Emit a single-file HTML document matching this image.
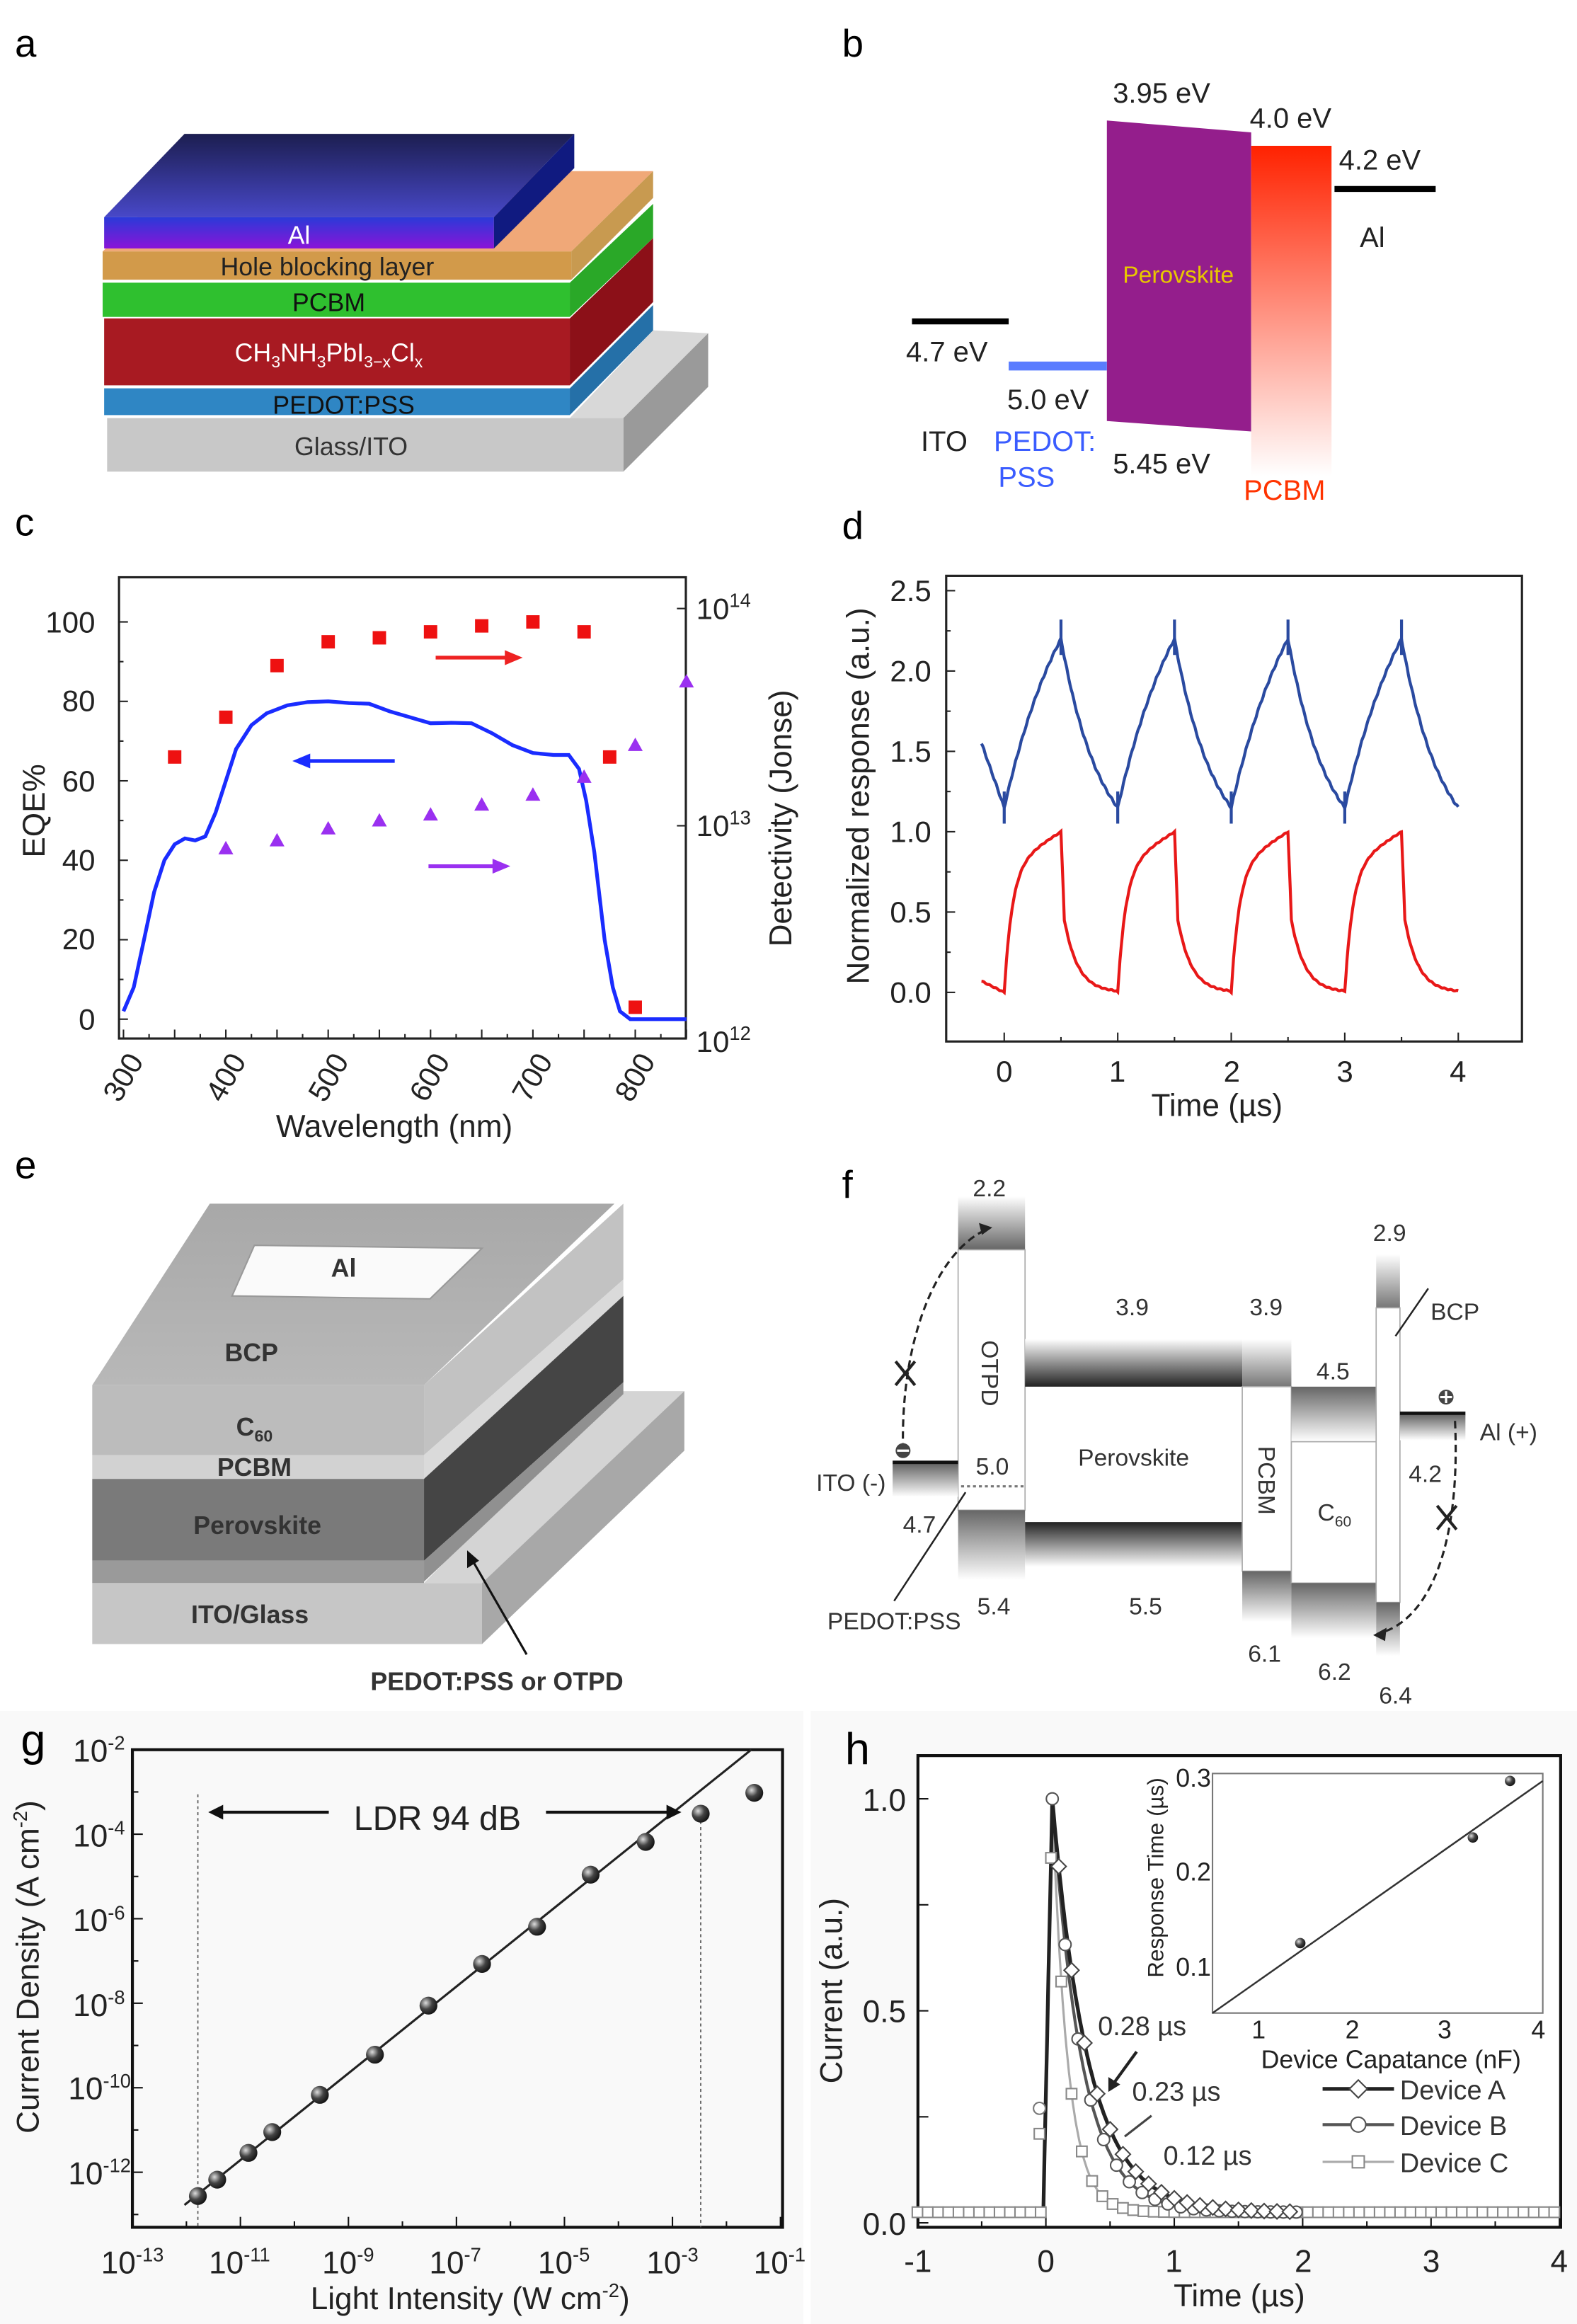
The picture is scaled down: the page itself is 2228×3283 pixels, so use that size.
<!DOCTYPE html>
<html><head><meta charset="utf-8"><style>
html,body{margin:0;padding:0;background:#fff}
svg{display:block}
text{font-family:"Liberation Sans",Arial,sans-serif}
</style></head><body>
<svg id="s" width="2228" height="3283" viewBox="0 0 1060 1562" preserveAspectRatio="none" xmlns="http://www.w3.org/2000/svg">
<defs>
<linearGradient id="alTop" x1="0" y1="0" x2="0" y2="1"><stop offset="0" stop-color="#1c1e50"/><stop offset="1" stop-color="#4848c8"/></linearGradient>
<linearGradient id="alFront" x1="0" y1="0" x2="0" y2="1"><stop offset="0" stop-color="#2a3ad8"/><stop offset="1" stop-color="#8a14d8"/></linearGradient>
<linearGradient id="pcbmB" x1="0" y1="0" x2="0" y2="1"><stop offset="0" stop-color="#ff2200"/><stop offset="1" stop-color="#ffffff"/></linearGradient>
<linearGradient id="topE" x1="0" y1="0" x2="0" y2="1"><stop offset="0" stop-color="#a8a8a8"/><stop offset="1" stop-color="#b8b8b8"/></linearGradient>
<linearGradient id="bandDown" x1="0" y1="0" x2="0" y2="1"><stop offset="0" stop-color="#fff"/><stop offset="1" stop-color="#222"/></linearGradient>
<linearGradient id="bandUp" x1="0" y1="0" x2="0" y2="1"><stop offset="0" stop-color="#222"/><stop offset="1" stop-color="#fff"/></linearGradient>
<linearGradient id="bandDownL" x1="0" y1="0" x2="0" y2="1"><stop offset="0" stop-color="#fff"/><stop offset="1" stop-color="#777"/></linearGradient>
<linearGradient id="bandUpL" x1="0" y1="0" x2="0" y2="1"><stop offset="0" stop-color="#666"/><stop offset="1" stop-color="#fff"/></linearGradient>
<radialGradient id="ball" cx="0.35" cy="0.35" r="0.7"><stop offset="0" stop-color="#ddd"/><stop offset="0.5" stop-color="#444"/><stop offset="1" stop-color="#111"/></radialGradient>
</defs>

<!-- ===== Panel a ===== -->
<text x="10" y="38" font-size="26">a</text>
<polygon points="383,281 439,222 476,224 419,281" fill="#d8d8d8"/>
<polygon points="419,281 476,224 476,260 419,317" fill="#9a9a9a"/>
<rect x="72" y="281" width="347" height="36" fill="#c8c8c8"/>
<polygon points="383,261 439,205 439,222 383,279" fill="#2570a8"/>
<rect x="70" y="261" width="313" height="18" fill="#2f86c4"/>
<polygon points="383,214 439,160 439,203 383,259" fill="#8c1018"/>
<rect x="70" y="214" width="313" height="45" fill="#a81a22"/>
<polygon points="383,190 439,137 439,160 383,213" fill="#2aa828"/>
<rect x="69" y="190" width="314" height="23" fill="#2fc02f"/>
<polygon points="69,169 124,115 439,115 384,169" fill="#f0a878"/>
<polygon points="384,169 439,115 439,133 384,188" fill="#c89a50"/>
<rect x="69" y="169" width="315" height="19" fill="#d29a4a"/>
<polygon points="70,146 124,90 386,90 332,146" fill="url(#alTop)"/>
<polygon points="332,146 386,90 386,113 332,167" fill="#101a80"/>
<rect x="70" y="146" width="262" height="21" fill="url(#alFront)"/>
<g font-size="17" text-anchor="middle">
<text x="201" y="164" fill="#fff">Al</text>
<text x="220" y="185" fill="#222">Hole blocking layer</text>
<text x="221" y="209" fill="#111">PCBM</text>
<text x="221" y="243" fill="#fff">CH<tspan font-size="11" dy="4">3</tspan><tspan dy="-4">NH</tspan><tspan font-size="11" dy="4">3</tspan><tspan dy="-4">PbI</tspan><tspan font-size="11" dy="4">3−x</tspan><tspan dy="-4">Cl</tspan><tspan font-size="11" dy="4">x</tspan></text>
<text x="231" y="278" fill="#111">PEDOT:PSS</text>
<text x="236" y="306" fill="#333">Glass/ITO</text>
</g>

<!-- ===== Panel b ===== -->
<text x="566" y="38" font-size="26">b</text>
<polygon points="744,81 841,89 841,290 744,283" fill="#941e8c"/>
<rect x="841" y="98" width="54" height="222" fill="url(#pcbmB)"/>
<line x1="897" y1="127" x2="965" y2="127" stroke="#000" stroke-width="4"/>
<line x1="613" y1="216" x2="678" y2="216" stroke="#000" stroke-width="4"/>
<line x1="678" y1="246" x2="744" y2="246" stroke="#5a7cff" stroke-width="6"/>
<g font-size="19" fill="#222">
<text x="748" y="69">3.95 eV</text>
<text x="840" y="86">4.0 eV</text>
<text x="900" y="114">4.2 eV</text>
<text x="914" y="166">Al</text>
<text x="609" y="243">4.7 eV</text>
<text x="677" y="275">5.0 eV</text>
<text x="619" y="303">ITO</text>
<text x="748" y="318">5.45 eV</text>
</g>
<text x="792" y="190" font-size="16" fill="#e8c600" text-anchor="middle">Perovskite</text>
<text x="668" y="303" font-size="19" fill="#3a5cff">PEDOT:</text>
<text x="671" y="327" font-size="19" fill="#3a5cff">PSS</text>
<text x="836" y="336" font-size="19" fill="#ff3300">PCBM</text>

<!-- ===== Panel c ===== -->
<text x="10" y="360" font-size="26">c</text>
<rect x="80" y="388" width="381" height="310" fill="none" stroke="#222" stroke-width="1.5"/>
<g id="cTicks" stroke="#222" stroke-width="1"></g>
<g font-size="20" fill="#222" text-anchor="end">
<text x="64" y="692">0</text><text x="64" y="638">20</text><text x="64" y="585">40</text><text x="64" y="532">60</text><text x="64" y="478">80</text><text x="64" y="425">100</text>
</g>
<g font-size="20" fill="#222">
<text x="468" y="416">10<tspan font-size="13" dy="-8">14</tspan></text>
<text x="468" y="562">10<tspan font-size="13" dy="-8">13</tspan></text>
<text x="468" y="707">10<tspan font-size="13" dy="-8">12</tspan></text>
</g>
<g font-size="20" fill="#222" text-anchor="end">
<text transform="translate(97,713) rotate(-60)">300</text>
<text transform="translate(166,713) rotate(-60)">400</text>
<text transform="translate(235,713) rotate(-60)">500</text>
<text transform="translate(303,713) rotate(-60)">600</text>
<text transform="translate(372,713) rotate(-60)">700</text>
<text transform="translate(441,713) rotate(-60)">800</text>
</g>
<text x="265" y="764" font-size="21" text-anchor="middle" fill="#222">Wavelength (nm)</text>
<text transform="translate(30,545) rotate(-90)" font-size="21" text-anchor="middle" fill="#222">EQE%</text>
<text transform="translate(532,550) rotate(-90)" font-size="21" text-anchor="middle" fill="#222">Detectivity (Jonse)</text>
<g id="cData"></g>

<!-- ===== Panel d ===== -->
<text x="566" y="362" font-size="26">d</text>
<rect x="636" y="387" width="387" height="313" fill="none" stroke="#222" stroke-width="1.5"/>
<g id="dTicks" stroke="#222" stroke-width="1"></g>
<g font-size="20" fill="#222" text-anchor="end">
<text x="626" y="674">0.0</text><text x="626" y="620">0.5</text><text x="626" y="566">1.0</text><text x="626" y="512">1.5</text><text x="626" y="458">2.0</text><text x="626" y="404">2.5</text>
</g>
<g font-size="20" fill="#222" text-anchor="middle">
<text x="675" y="727">0</text><text x="751" y="727">1</text><text x="828" y="727">2</text><text x="904" y="727">3</text><text x="980" y="727">4</text>
</g>
<text x="818" y="750" font-size="21" text-anchor="middle" fill="#222">Time (µs)</text>
<text transform="translate(584,535) rotate(-90)" font-size="21" text-anchor="middle" fill="#222">Normalized response (a.u.)</text>
<g id="dData"></g>

<!-- ===== Panel e ===== -->
<text x="10" y="792" font-size="26">e</text>
<polygon points="285,1064 412,935 460,935 324,1064" fill="#d4d4d4"/>
<polygon points="324,1064 460,935 460,975 324,1105" fill="#a8a8a8"/>
<rect x="62" y="1064" width="262" height="41" fill="#c6c6c6"/>
<polygon points="285,931 419,809 419,860 285,978" fill="#c2c2c2"/>
<polygon points="285,978 419,860 419,871 285,994" fill="#dadada"/>
<polygon points="285,994 419,871 419,929 285,1049" fill="#454545"/>
<polygon points="285,1049 419,929 419,937 285,1063" fill="#909090"/>
<rect x="62" y="931" width="223" height="47" fill="#bcbcbc"/>
<rect x="62" y="978" width="223" height="16" fill="#d2d2d2"/>
<rect x="62" y="994" width="223" height="55" fill="#7a7a7a"/>
<rect x="62" y="1049" width="223" height="15" fill="#9a9a9a"/>
<polygon points="62,931 141,809 413,809 285,931" fill="url(#topE)"/>
<polygon points="156,871 171,837 324,839 289,873" fill="#fafafa" stroke="#999" stroke-width="1"/>
<g font-size="17" font-weight="bold" fill="#333" text-anchor="middle">
<text x="231" y="858">Al</text>
<text x="169" y="915">BCP</text>
<text x="171" y="965">C<tspan font-size="11" dy="4">60</tspan></text>
<text x="171" y="992">PCBM</text>
<text x="173" y="1031">Perovskite</text>
<text x="168" y="1091">ITO/Glass</text>
<text x="334" y="1136">PEDOT:PSS or OTPD</text>
</g>
<line x1="354" y1="1112" x2="316" y2="1046" stroke="#111" stroke-width="1.5"/>
<polygon points="314,1042 314,1054 322,1049" fill="#111"/>

<!-- ===== Panel f ===== -->
<text x="566" y="805" font-size="26">f</text>
<rect x="644" y="804" width="45" height="36" fill="url(#bandUpL)" transform="rotate(180 666.5 822)"/>
<rect x="644" y="840" width="45" height="175" fill="#fff" stroke="#aaa" stroke-width="0.8"/>
<rect x="644" y="1015" width="45" height="47" fill="url(#bandUpL)"/>
<line x1="600" y1="983" x2="644" y2="983" stroke="#111" stroke-width="2.5"/>
<rect x="600" y="984" width="44" height="22" fill="url(#bandUpL)"/>
<line x1="646" y1="999" x2="689" y2="999" stroke="#777" stroke-width="1.5" stroke-dasharray="2,2"/>
<rect x="689" y="900" width="146" height="32" fill="url(#bandDown)"/>
<rect x="689" y="1023" width="146" height="30" fill="url(#bandUp)"/>
<rect x="835" y="900" width="33" height="32" fill="url(#bandDownL)"/>
<rect x="835" y="932" width="33" height="124" fill="#fff" stroke="#aaa" stroke-width="0.8"/>
<rect x="835" y="1056" width="33" height="34" fill="url(#bandUpL)"/>
<rect x="868" y="932" width="57" height="37" fill="url(#bandUpL)"/>
<rect x="868" y="969" width="57" height="95" fill="#fff" stroke="#aaa" stroke-width="0.8"/>
<rect x="868" y="1064" width="57" height="37" fill="url(#bandUpL)"/>
<rect x="925" y="843" width="16" height="36" fill="url(#bandDownL)"/>
<rect x="925" y="879" width="16" height="198" fill="#fff" stroke="#aaa" stroke-width="0.8"/>
<rect x="925" y="1077" width="16" height="36" fill="url(#bandUpL)"/>
<line x1="941" y1="950" x2="985" y2="950" stroke="#111" stroke-width="2.5"/>
<rect x="941" y="951" width="44" height="17" fill="url(#bandUpL)"/>
<g font-size="16" fill="#333" text-anchor="middle">
<text x="665" y="804">2.2</text>
<text x="934" y="834">2.9</text>
<text x="761" y="884">3.9</text>
<text x="851" y="884">3.9</text>
<text x="896" y="927">4.5</text>
<text x="978" y="887">BCP</text>
<text x="1014" y="968">Al (+)</text>
<text x="958" y="996">4.2</text>
<text x="618" y="1030">4.7</text>
<text x="667" y="991">5.0</text>
<text x="762" y="985">Perovskite</text>
<text x="668" y="1085">5.4</text>
<text x="770" y="1085">5.5</text>
<text x="601" y="1095">PEDOT:PSS</text>
<text x="850" y="1117">6.1</text>
<text x="897" y="1129">6.2</text>
<text x="938" y="1145">6.4</text>
<text x="572" y="1002">ITO (-)</text>
<text x="897" y="1022">C<tspan font-size="10" dy="4">60</tspan></text>
<text transform="translate(846,995) rotate(90)">PCBM</text>
<text transform="translate(660,923) rotate(90)">OTPD</text>
</g>
<path d="M607,975 C605,900 630,840 664,826" fill="none" stroke="#222" stroke-width="1.5" stroke-dasharray="5,3"/>
<polygon points="667,825 658,822 660,830" fill="#222"/>
<path d="M978,955 C982,1040 960,1090 926,1098" fill="none" stroke="#222" stroke-width="1.5" stroke-dasharray="5,3"/>
<polygon points="923,1099 932,1094 931,1103" fill="#222"/>
<g stroke="#222" stroke-width="2"><line x1="602" y1="915" x2="615" y2="931"/><line x1="615" y1="915" x2="602" y2="931"/><line x1="966" y1="1012" x2="979" y2="1028"/><line x1="979" y1="1012" x2="966" y2="1028"/></g>
<circle cx="607" cy="975" r="5" fill="#444"/><line x1="603" y1="975" x2="611" y2="975" stroke="#fff" stroke-width="1.5"/>
<circle cx="972" cy="939" r="5" fill="#444"/><line x1="968" y1="939" x2="976" y2="939" stroke="#fff" stroke-width="1.5"/><line x1="972" y1="935" x2="972" y2="943" stroke="#fff" stroke-width="1.5"/>
<line x1="960" y1="866" x2="938" y2="898" stroke="#222" stroke-width="1.2"/>
<line x1="601" y1="1076" x2="649" y2="1003" stroke="#222" stroke-width="1.2"/>

<!-- ===== Panel g ===== -->
<rect x="0" y="1150" width="540" height="412" fill="#f9f9f9"/>
<text x="14" y="1180" font-size="30">g</text>
<rect x="89" y="1176" width="437" height="321" fill="none" stroke="#111" stroke-width="2"/>
<g id="gTicks" stroke="#111" stroke-width="1"></g>
<g font-size="21" fill="#222" text-anchor="end">
<text x="84" y="1184">10<tspan font-size="13" dy="-8">-2</tspan></text>
<text x="84" y="1241">10<tspan font-size="13" dy="-8">-4</tspan></text>
<text x="84" y="1298">10<tspan font-size="13" dy="-8">-6</tspan></text>
<text x="84" y="1355">10<tspan font-size="13" dy="-8">-8</tspan></text>
<text x="88" y="1411">10<tspan font-size="13" dy="-8">-10</tspan></text>
<text x="88" y="1468">10<tspan font-size="13" dy="-8">-12</tspan></text>
</g>
<g font-size="21" fill="#222" text-anchor="middle">
<text x="89" y="1528">10<tspan font-size="13" dy="-8">-13</tspan></text>
<text x="161" y="1528">10<tspan font-size="13" dy="-8">-11</tspan></text>
<text x="234" y="1528">10<tspan font-size="13" dy="-8">-9</tspan></text>
<text x="306" y="1528">10<tspan font-size="13" dy="-8">-7</tspan></text>
<text x="379" y="1528">10<tspan font-size="13" dy="-8">-5</tspan></text>
<text x="452" y="1528">10<tspan font-size="13" dy="-8">-3</tspan></text>
<text x="524" y="1528">10<tspan font-size="13" dy="-8">-1</tspan></text>
</g>
<text x="316" y="1552" font-size="21" text-anchor="middle" fill="#222">Light Intensity (W cm<tspan font-size="13" dy="-8">-2</tspan><tspan dy="8">)</tspan></text>
<text transform="translate(26,1322) rotate(-90)" font-size="21" text-anchor="middle" fill="#222">Current Density (A cm<tspan font-size="13" dy="-8">-2</tspan><tspan dy="8">)</tspan></text>
<line x1="133" y1="1206" x2="133" y2="1497" stroke="#555" stroke-width="0.8" stroke-dasharray="2,2"/>
<line x1="471" y1="1220" x2="471" y2="1497" stroke="#555" stroke-width="0.8" stroke-dasharray="2,2"/>
<line x1="124" y1="1482" x2="505" y2="1176" stroke="#222" stroke-width="1.5"/>
<text x="294" y="1230" font-size="23" text-anchor="middle" fill="#222">LDR 94 dB</text>
<line x1="221" y1="1218" x2="146" y2="1218" stroke="#111" stroke-width="2"/>
<polygon points="140,1218 150,1213 150,1223" fill="#111"/>
<line x1="367" y1="1218" x2="450" y2="1218" stroke="#111" stroke-width="2"/>
<polygon points="458,1218 448,1213 448,1223" fill="#111"/>
<g id="gData"></g>

<!-- ===== Panel h ===== -->
<rect x="545" y="1150" width="515" height="412" fill="#f9f9f9"/>
<text x="568" y="1186" font-size="30">h</text>
<rect x="617" y="1180" width="432" height="317" fill="#fff" stroke="#111" stroke-width="2"/>
<g id="hTicks" stroke="#111" stroke-width="1"></g>
<g font-size="21" fill="#222" text-anchor="end">
<text x="609" y="1502">0.0</text><text x="609" y="1359">0.5</text><text x="609" y="1217">1.0</text>
</g>
<g font-size="21" fill="#222" text-anchor="middle">
<text x="617" y="1527">-1</text><text x="703" y="1527">0</text><text x="789" y="1527">1</text><text x="876" y="1527">2</text><text x="962" y="1527">3</text><text x="1048" y="1527">4</text>
</g>
<text x="833" y="1550" font-size="21" text-anchor="middle" fill="#222">Time (µs)</text>
<text transform="translate(566,1338) rotate(-90)" font-size="21" text-anchor="middle" fill="#222">Current (a.u.)</text>
<g id="hData"></g>
<rect x="815" y="1192" width="222" height="161" fill="#fff" stroke="#777" stroke-width="1"/>
<line x1="815" y1="1353" x2="1037" y2="1197" stroke="#333" stroke-width="1.2"/>
<circle cx="874" cy="1306" r="3.5" fill="url(#ball)"/>
<circle cx="990" cy="1235" r="3.5" fill="url(#ball)"/>
<circle cx="1015" cy="1197" r="3.5" fill="url(#ball)"/>
<g font-size="17" fill="#222" text-anchor="end">
<text x="814" y="1201">0.3</text><text x="814" y="1264">0.2</text><text x="814" y="1328">0.1</text>
</g>
<g font-size="17" fill="#222" text-anchor="middle">
<text x="846" y="1370">1</text><text x="909" y="1370">2</text><text x="971" y="1370">3</text><text x="1034" y="1370">4</text>
</g>
<text x="935" y="1390" font-size="17" text-anchor="middle" fill="#222">Device Capatance (nF)</text>
<text transform="translate(782,1262) rotate(-90)" font-size="15" text-anchor="middle" fill="#222">Response Time (µs)</text>
<g font-size="18" fill="#333">
<line x1="889" y1="1404" x2="937" y2="1404" stroke="#222" stroke-width="2.5"/><polygon points="913,1398 919,1404 913,1410 907,1404" fill="#fff" stroke="#444"/>
<text x="941" y="1411">Device A</text>
<line x1="889" y1="1428" x2="937" y2="1428" stroke="#555" stroke-width="2"/><circle cx="913" cy="1428" r="5" fill="#fff" stroke="#555"/>
<text x="941" y="1435">Device B</text>
<line x1="889" y1="1453" x2="937" y2="1453" stroke="#aaa" stroke-width="1.5"/><rect x="909" y="1449" width="8" height="8" fill="#fff" stroke="#888"/>
<text x="941" y="1460">Device C</text>
<text x="738" y="1368">0.28 µs</text>
<text x="761" y="1412">0.23 µs</text>
<text x="782" y="1455">0.12 µs</text>
</g>
<line x1="764" y1="1379" x2="748" y2="1401" stroke="#222" stroke-width="2"/>
<polygon points="745,1406 745,1396 753,1401" fill="#222"/>
<line x1="774" y1="1422" x2="756" y2="1436" stroke="#444" stroke-width="1.5"/>
</svg>
<script>
var NS="http://www.w3.org/2000/svg";
function el(p,t,a){var e=document.createElementNS(NS,t);for(var k in a)e.setAttribute(k,a[k]);document.getElementById(p).appendChild(e);return e;}
function path(p,pts,st,w,extra){var d="M"+pts.map(function(q){return q[0].toFixed(1)+","+q[1].toFixed(1)}).join("L");var a={d:d,fill:"none",stroke:st,"stroke-width":w};for(var k in extra)a[k]=extra[k];return el(p,"path",a);}
function tick(p,x1,y1,x2,y2){el(p,"line",{x1:x1,y1:y1,x2:x2,y2:y2});}
function CX(w){return 83+(w-300)*0.688;} function CY(e){return 685-e*2.67;}
for(var w=300;w<=850;w+=50){tick("cTicks",CX(w),698,CX(w),692);}
for(var w=325;w<=850;w+=50){tick("cTicks",CX(w),698,CX(w),695);}
for(var e=0;e<=100;e+=20){tick("cTicks",80,CY(e),86,CY(e));}
for(var e=10;e<=100;e+=20){tick("cTicks",80,CY(e),83,CY(e));}
[409,555,698].forEach(function(y){tick("cTicks",461,y,455,y);});
var eq=[[300,2],[310,8],[320,20],[330,32],[340,40],[350,44],[360,45.5],[370,45],[380,46],[390,52],[400,60],[410,68],[425,74],[440,77],[460,79],[480,79.8],[500,80],[520,79.6],[540,79.4],[560,77.5],[580,76],[600,74.5],[620,74.6],[640,74.5],[660,72],[680,69],[700,67],[720,66.5],[735,66.5],[745,63],[752,55],[760,42],[770,20],[778,8],[785,2],[795,0],[850,0]];
path("cData",eq.map(function(q){return [CX(q[0]),CY(q[1])]}),"#1a2cff",2.5);
[[350,66],[400,76],[450,89],[500,95],[550,96],[600,97.5],[650,99],[700,100],[750,97.5],[775,66],[800,3]].forEach(function(q){el("cData","rect",{x:CX(q[0])-4.5,y:CY(q[1])-4.5,width:9,height:9,fill:"#ee1111"});});
[[400,43],[450,45],[500,48],[550,50],[600,51.5],[650,54],[700,56.5],[750,61],[800,69],[850,85]].forEach(function(q){var x=CX(q[0]),y=CY(q[1]);el("cData","polygon",{points:(x-5)+","+(y+4)+" "+(x+5)+","+(y+4)+" "+x+","+(y-5),fill:"#9a30f0"});});
function arrow(p,x1,x2,y,c){el(p,"line",{x1:x1,y1:y,x2:x2+(x2>x1?-8:8),y2:y,stroke:c,"stroke-width":2.5});var s=x2>x1?-1:1;el(p,"polygon",{points:x2+","+y+" "+(x2+s*12)+","+(y-5)+" "+(x2+s*12)+","+(y+5),fill:c});}
arrow("cData",CX(605),CX(690),CY(91),"#ee2222");
arrow("cData",CX(565),CX(465),CY(65),"#1a2cff");
arrow("cData",CX(598),CX(678),CY(38.5),"#9a30f0");
function DX(t){return 675+t*76.3;} function DY(v){return 667-v*108;}
for(var t=0;t<=4;t+=0.5){tick("dTicks",DX(t),700,DX(t),t%1==0?694:697);}
for(var v=0;v<=2.5;v+=0.25){tick("dTicks",636,DY(v),(v*2)%1==0?642:639,DY(v));}
var blue=[],red=[];
function bl(t){var s,k;if(t<0){return 1.15+0.4*(-t/0.2);}k=Math.floor(t);s=t-k;
 if(s<0.5){return 1.15+1.05*(1-Math.exp(-s/0.6))/(1-Math.exp(-0.5/0.6));}
 var u=s-0.5;return 1.15+1.05*(Math.exp(-u/0.35)-Math.exp(-0.5/0.35))/(1-Math.exp(-0.5/0.35));}
function rd(t){if(t<0)return 0.07*(-t/0.2);var k=Math.floor(t),s=t-k;
 if(s<0.5){return 0.78*(1-Math.exp(-s/0.07))+0.22*(s/0.5);}
 var u=s-0.5;if(u<0.03)return 1-u/0.03*0.55;return 0.45*Math.exp(-(u-0.03)/0.12);}
for(var t=-0.2;t<=4.0001;t+=0.01){var n=(Math.sin(t*517)*0.006);blue.push([DX(t),DY(bl(t)+n)]);red.push([DX(t),DY(rd(t)+n*0.5)]);}
path("dData",blue,"#2a4aa0",2);path("dData",red,"#e81818",2);
for(var k=0;k<4;k++){el("dData","line",{x1:DX(k+0.5),y1:DY(2.1),x2:DX(k+0.5),y2:DY(2.32),stroke:"#2a4aa0","stroke-width":2});}
for(var k=0;k<4;k++){el("dData","line",{x1:DX(k),y1:DY(1.05),x2:DX(k),y2:DY(1.25),stroke:"#2a4aa0","stroke-width":2});}
function GX(l){return 89+(l+13)*36.3;} function GY(l){return 1176+(-2-l)*28.4;}
for(var l=-13;l<=-1;l++){tick("gTicks",GX(l),1497,GX(l),l%2?1490:1493);}
for(var l=-13;l<=-2;l++){tick("gTicks",89,GY(l),l%2==0?96:93,GY(l));}
[[133,1476],[146,1465],[167,1447],[183,1433],[215,1408],[252,1381],[288,1348],[324,1320],[361,1295],[397,1260],[434,1238],[471,1219],[507,1205]].forEach(function(q){el("gData","circle",{cx:q[0],cy:q[1],r:6,fill:"url(#ball)"});});
function HX(t){return 703+t*86.3;} function HY(v){return 1494-v*285;}
for(var t=-1;t<=4;t+=0.5){tick("hTicks",HX(t),1497,HX(t),t%1==0?1490:1493);}
for(var v=0;v<=1.0;v+=0.25){tick("hTicks",617,HY(v),624,HY(v));}
function dec(t,tau){if(t<-0.02)return 0.025;if(t<0.05)return 0.025+0.975*(t+0.02)/0.07;return 0.025+0.975*Math.exp(-(t-0.05)/tau);}
var cfg=[["C",0.12,"#aaa",1.5],["B",0.23,"#555",2],["A",0.28,"#222",2.5]];
cfg.forEach(function(c){var pts=[];for(var t=-1;t<=4;t+=0.01)pts.push([HX(t),HY(dec(t,c[1]))]);path("hData",pts,c[2],c[3]);});
for(var t=-1;t<=4;t+=0.08){var y=HY(dec(t,0.12));el("hData","rect",{x:HX(t)-3.5,y:y-3.5,width:7,height:7,fill:"#fff",stroke:"#888","stroke-width":1});}
for(var t=0.05;t<=2;t+=0.1){var x=HX(t),y=HY(dec(t,0.23));el("hData","circle",{cx:x,cy:y,r:4,fill:"#fff",stroke:"#555","stroke-width":1});}
for(var t=0.1;t<=2;t+=0.1){var x=HX(t),y=HY(dec(t,0.28));el("hData","polygon",{points:x+","+(y-5)+" "+(x+5)+","+y+" "+x+","+(y+5)+" "+(x-5)+","+y,fill:"#fff",stroke:"#444","stroke-width":1});}
el("hData","circle",{cx:HX(-0.05),cy:HY(0.27),r:4,fill:"#fff",stroke:"#777"});
el("hData","rect",{x:HX(-0.05)-3.5,y:HY(0.21)-3.5,width:7,height:7,fill:"#fff",stroke:"#888"});
</script>
</body></html>
